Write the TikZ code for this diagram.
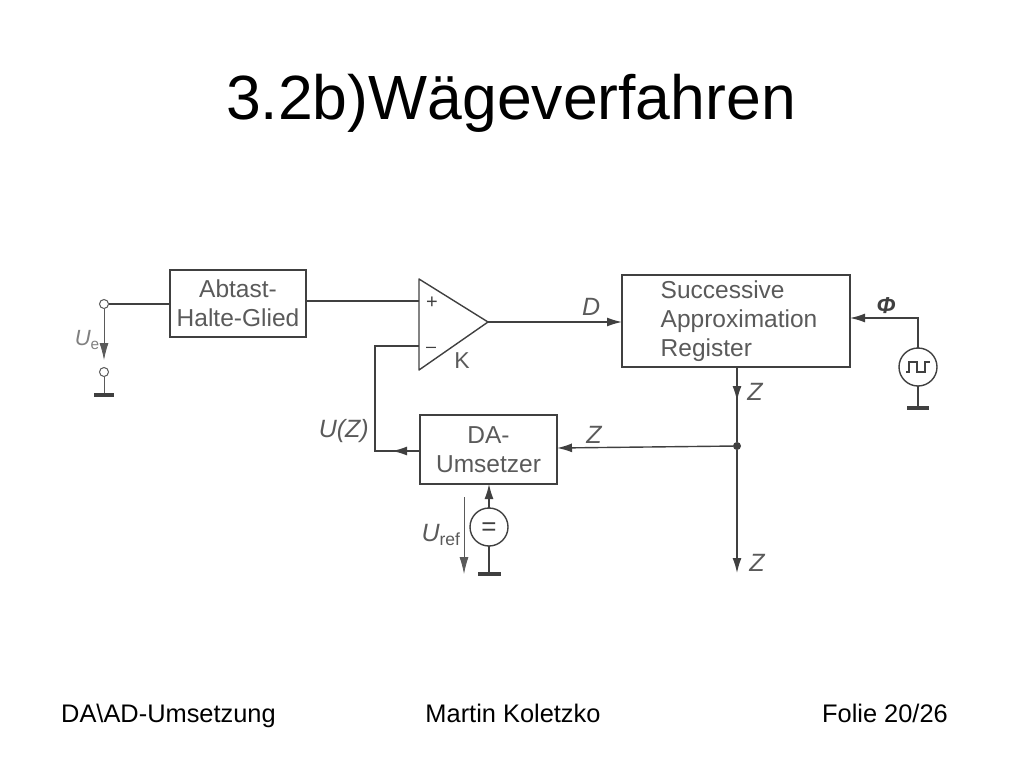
\documentclass[tikz,border=0pt]{standalone}
\usepackage{fontspec}
\setmainfont{Liberation Sans}
\usetikzlibrary{arrows.meta}
\definecolor{scanline}{HTML}{404040}
\definecolor{scantext}{HTML}{5A5A5A}
\tikzset{
	wire/.style={draw=scanline, line width=1.4pt},
	arr/.style={wire, -{Latex[length=15pt, width=9pt]}},
	thinarr/.style={draw=scantext, line width=0.8pt, -{Latex[length=17pt, width=9pt]}},
	block/.style={wire, rectangle, align=center, inner sep=0pt, outer sep=0pt, text=scantext, font=\fontsize{24.5}{29}\selectfont},
	terminal/.style={draw=scantext, fill=white, line width=1pt, circle, inner sep=0pt, outer sep=0pt, minimum size=9pt},
	source/.style={wire, fill=white, circle, inner sep=0pt, outer sep=0pt, minimum size=38pt, text=scanline},
	junction/.style={fill=scanline, circle, inner sep=0pt, minimum size=8pt},
	ground/.style={line width=3.6pt, draw=scanline},
	lbl/.style={text=scantext, inner sep=0pt, font=\fontsize{25}{28}\selectfont\itshape},
	foot/.style={anchor=base, inner sep=0pt, font=\fontsize{25.4}{30}\selectfont}
}
\newcommand{\subup}[1]{\textsubscript{\upshape #1}}
\begin{document}
\begin{tikzpicture}[x=1pt, y=-1pt]
	\useasboundingbox (0, 0) rectangle (1024, 768);

	\node[anchor=base, inner sep=0pt, font=\fontsize{62.5}{70}\selectfont] (title) at (511, 119) {3.2b)Wägeverfahren};
	\node[foot, anchor=base west] (footl) at (61, 722) {DA\textbackslash AD-Umsetzung};
	\node[foot] (footm) at (513, 722) {Martin Koletzko};
	\node[foot, anchor=base east] (footr) at (948, 722) {Folie 20/26};

	\node[block, minimum width=136pt, minimum height=67pt] (sh) at (238, 303.5) {Abtast-\\Halte-Glied};
	\node[block, minimum width=228pt, minimum height=92pt, align=left] (sar) at (736, 321) {\hspace*{6pt}Successive\\\hspace*{6pt}Approximation\\\hspace*{6pt}Register};
	\node[block, minimum width=137pt, minimum height=69pt] (dac) at (488.5, 449.5) {DA-\\Umsetzer};

	% comparator
	\coordinate (ka) at (419, 279);
	\coordinate (kb) at (419, 370);
	\coordinate (kout) at (488, 322);
	\coordinate (kplus) at (419, 301);
	\coordinate (kminus) at (419, 346);
	\draw[wire, line join=round] (ka) -- (kout) -- (kb) -- cycle;
	\node[text=scanline, inner sep=0pt, font=\fontsize{20}{22}\selectfont] (plus) at (432, 303) {+};
	\node[text=scanline, inner sep=0pt, font=\fontsize{18}{22}\selectfont] (minus) at (431, 349.5) {–};
	\node[text=scantext, inner sep=0pt, font=\fontsize{23}{26}\selectfont] (kname) at (462, 361) {K};

	% input
	\node[terminal] (ue) at (104, 304) {};
	\node[terminal] (uo) at (104, 372) {};
	\coordinate (uegnd) at (104, 395);
	\coordinate (uetip) at (104, 360);
	\draw[wire] (ue) -- (ue -| sh.west);
	\draw[thinarr] (ue) -- (uetip);
	\draw[wire, draw=scantext, line width=1pt] (uo) -- (uegnd);
	\draw[ground] (94, 395) -- (114, 395);
	\node[lbl, text=gray, anchor=east, font=\fontsize{22}{24}\selectfont\itshape] (uelbl) at (100, 340) {U\subup{e}};

	\draw[wire] (sh.east |- kplus) -- (kplus);
	\draw[arr] (kout) -- node[lbl, above=6pt, pos=0.77] (dlbl) {D} (kout -| sar.west);

	% feedback
	\coordinate (fbc) at (375, 346);
	\coordinate (fbd) at (375, 451);
	\coordinate (fbtip) at (392, 451);
	\draw[wire] (kminus) -- (fbc) -- (fbd) -- (dac.west |- fbd);
	\draw[arr] (dac.west |- fbd) -- (fbtip);
	\node[lbl, anchor=east] (uzlbl) at (369, 431) {U(Z)};

	% register outputs
	\coordinate (zout) at (737, 367);
	\coordinate (ztip) at (737, 401);
	\coordinate (zend) at (737, 573);
	\coordinate (zda) at (557, 448);
	\node[junction] (zj) at (737, 446) {};
	\draw[wire] (zout) -- (zj);
	\draw[arr] (zout) -- (ztip);
	\draw[arr] (zj) -- (zend);
	\draw[arr] (zj) -- (zda);
	\node[lbl] (z1) at (755, 392) {Z};
	\node[lbl] (z2) at (594, 435) {Z};
	\node[lbl] (z3) at (757, 563) {Z};

	% reference source
	\node[source, font=\fontsize{26}{26}\selectfont] (uref) at (489, 527) {\raisebox{-8.8pt}[0pt][0pt]{=}};
	\coordinate (urefgnd) at (489, 574);
	\coordinate (urefa) at (464, 497);
	\coordinate (urefb) at (464, 574);
	\draw[arr] (uref) -- (uref |- dac.south);
	\draw[wire] (uref) -- (urefgnd);
	\draw[ground] (478, 574) -- (501, 574);
	\draw[thinarr] (urefa) -- (urefb);
	\node[lbl] (ureflbl) at (441, 535) {U\subup{ref}};

	% clock
	\node[source] (clk) at (918, 367) {};
	\coordinate (clkc) at (918, 318);
	\coordinate (clkgnd) at (918, 408);
	\draw[arr] (clk) -- (clkc) -- (sar.east |- clkc);
	\draw[wire] (clk) -- (clkgnd);
	\draw[ground] (907, 408) -- (929, 408);
	\draw[wire, line width=1.1pt] (906, 372) -- (909, 372) -- (909, 362) -- (917, 362) -- (917, 372) -- (925, 372) -- (925, 362) -- (930, 362);
	\node[text=scanline, inner sep=0pt, font=\fontsize{23}{24}\selectfont\bfseries\itshape] (philbl) at (886, 306) {Φ};
\end{tikzpicture}
\end{document}
